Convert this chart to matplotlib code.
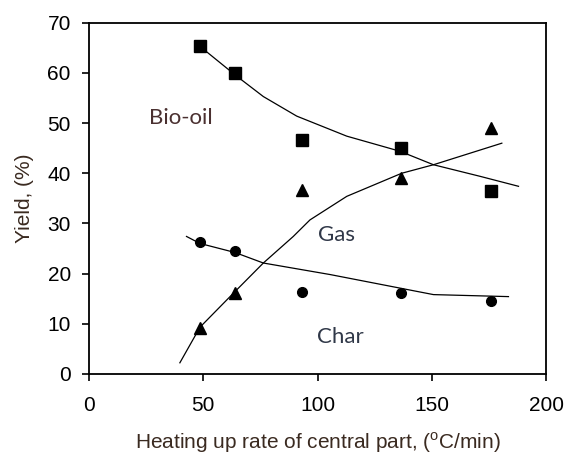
import matplotlib.pyplot as plt

plt.rcParams['font.family'] = ['Liberation Sans', 'DejaVu Sans']
plt.rcParams['mathtext.fontset'] = 'custom'
plt.rcParams['mathtext.rm'] = 'Liberation Sans'

# measured points
rate = [48.6, 63.9, 93.3, 136.3, 175.7]
bio_oil = [65.3, 59.9, 46.7, 45.0, 36.5]
gas = [9.1, 16.1, 36.7, 39.0, 49.0]
char = [26.3, 24.4, 16.4, 16.1, 14.6]

# trend lines
bio_fit_x = [48.6, 64.0, 76.3, 90.9, 112.8, 136.0, 150.7, 171.0, 187.9]
bio_fit_y = [65.3, 59.6, 55.3, 51.4, 47.4, 44.4, 41.7, 39.4, 37.4]
gas_fit_x = [39.8, 48.6, 63.9, 76.3, 89.4, 96.7, 112.8, 136.8, 150.7, 180.6]
gas_fit_y = [2.2, 9.3, 16.4, 22.1, 27.4, 30.7, 35.4, 40.0, 41.7, 46.0]
char_fit_x = [42.7, 48.6, 63.9, 76.3, 105.5, 136.0, 150.7, 183.5]
char_fit_y = [27.4, 26.0, 24.2, 22.1, 19.8, 17.1, 15.8, 15.4]

fig = plt.figure(figsize=(5.66, 4.57), dpi=100)
ax = fig.add_axes([0.157, 0.182, 0.808, 0.768])

ax.plot(bio_fit_x, bio_fit_y, color='black', lw=0.9)
ax.plot(gas_fit_x, gas_fit_y, color='black', lw=0.9)
ax.plot(char_fit_x, char_fit_y, color='black', lw=0.9)

ax.plot(rate, bio_oil, 's', color='black', markersize=8, ls='none')
ax.plot(rate, gas, '^', color='black', markersize=8, ls='none')
ax.plot(rate, char, 'o', color='black', markersize=7, ls='none')

txt_font = ['Lato', 'DejaVu Sans']
ax.text(40.3, 51.1, 'Bio-oil', ha='center', va='center', fontsize=16,
        color='#4a3030', family=txt_font)
ax.text(108.4, 27.7, 'Gas', ha='center', va='center', fontsize=16,
        color='#303848', family=txt_font)
ax.text(110.2, 7.4, 'Char', ha='center', va='center', fontsize=16,
        color='#303848', family=txt_font)

ax.set_xlim(0, 200)
ax.set_ylim(0, 70)
ax.set_xticks([0, 50, 100, 150, 200])
ax.set_yticks(range(0, 71, 10))
ax.tick_params(direction='out', length=5, width=1.2, labelsize=15,
               colors='black', pad=8)
ax.tick_params(axis='x', pad=11)
for s in ax.spines.values():
    s.set_linewidth(1.3)

ax.set_xlabel('Heating up rate of central part, ($^{\\mathrm{o}}$C/min)',
              fontsize=15, color='#3a2a20', labelpad=11)
ax.set_ylabel('Yield, (%)', fontsize=15, color='#3a2a20', labelpad=10)

fig.savefig('out.png', dpi=100)
